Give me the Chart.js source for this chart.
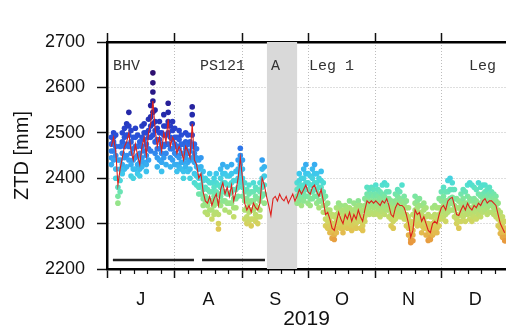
<!DOCTYPE html>
<html>
<head>
<meta charset="utf-8">
<script src="https://cdn.jsdelivr.net/npm/chart.js@4.4.1/dist/chart.umd.min.js"></script>
<style>
  body { margin: 0; background: #fff; }
</style>
</head>
<body>
<canvas id="ztd" width="506" height="331"></canvas>
<script>
// x = days since 1 July 2019
const monthStarts = [0, 31, 62, 92, 123, 153];
const monthMids = [15.5, 46.5, 77, 107.5, 138, 168.5];
const monthLetters = ['J', 'A', 'S', 'O', 'N', 'D'];
const minorDays = [6.2, 12.4, 18.6, 24.8, 37.2, 43.4, 49.6, 55.8, 68, 74, 80, 86,
  98.2, 104.4, 110.6, 116.8, 129, 135, 141, 147, 159.2, 165.4, 171.6, 177.8];

// smoothed ZTD (red line), one value per day starting at day 2
const lineStart = 2;
const lineZtd = [
  2470, 2490, 2460, 2385, 2420, 2445, 2470, 2480, 2500, 2460, 2440, 2475, 2450, 2430, 2470,
  2490, 2450, 2500, 2520, 2570, 2510, 2470, 2490, 2460, 2500, 2480, 2530, 2470, 2490, 2480,
  2455, 2470, 2460, 2440, 2470, 2460, 2445, 2520, 2440, 2430, 2400, 2410, 2370, 2350, 2345,
  2360, 2340, 2355, 2365, 2340, 2375, 2390, 2365, 2380, 2360, 2385, 2350, 2370, 2400, 2445,
  2400, 2345, 2330, 2340, 2325, 2345, 2335, 2330, 2345, 2400, 2385, 2360, 2340, 2318, 2355,
  2360, 2350, 2365, 2355, 2350, 2360, 2345, 2355, 2365, 2350, 2360, 2375, 2365, 2375, 2385,
  2370, 2365, 2380, 2385, 2370, 2360, 2375, 2350, 2320, 2325, 2310, 2290, 2285, 2305, 2325,
  2310, 2300, 2320, 2310, 2325, 2305, 2320, 2310, 2330, 2315, 2305, 2330, 2350, 2345, 2350,
  2345, 2350, 2345, 2340, 2350, 2345, 2355, 2340, 2320, 2315, 2335, 2345, 2340, 2340, 2335,
  2320, 2300, 2270, 2285, 2330, 2320, 2325, 2305, 2315, 2300, 2285, 2280, 2300, 2305, 2300,
  2320, 2335, 2340, 2330, 2350, 2355, 2358, 2340, 2320, 2318, 2330, 2340, 2330, 2345, 2335,
  2330, 2340, 2335, 2345, 2340, 2350, 2355, 2345, 2350, 2350, 2345, 2340, 2320, 2300, 2290,
  2280
];

// individual ZTD observations (dots), one list per day starting at day 2
const obsStart = 2;
const obsZtd = [
  [2490, 2475, 2460, 2445, 2430], [2500, 2490, 2480, 2460, 2440], [2495, 2470, 2450, 2420, 2400],
  [2440, 2400, 2380, 2360, 2345], [2470, 2440, 2420, 2395, 2370], [2500, 2480, 2455, 2430, 2410],
  [2510, 2490, 2470, 2445, 2420], [2520, 2495, 2475, 2450, 2425], [2545, 2515, 2495, 2470, 2440],
  [2505, 2480, 2455, 2430, 2405], [2490, 2465, 2440, 2420, 2400], [2510, 2490, 2470, 2445, 2420],
  [2495, 2470, 2450, 2430, 2410], [2480, 2455, 2435, 2420, 2405], [2515, 2490, 2470, 2445, 2425],
  [2520, 2500, 2485, 2460, 2435], [2500, 2475, 2450, 2430, 2415], [2530, 2505, 2490, 2465, 2440],
  [2560, 2535, 2515, 2490, 2460], [2632, 2610, 2590, 2570, 2545, 2520, 2495], [2550, 2525, 2505, 2480, 2455],
  [2510, 2485, 2465, 2445, 2425], [2525, 2500, 2485, 2465, 2440], [2500, 2475, 2455, 2435, 2415],
  [2540, 2515, 2495, 2470, 2445], [2515, 2495, 2475, 2455, 2430], [2565, 2545, 2525, 2500, 2475],
  [2515, 2490, 2465, 2445, 2425], [2525, 2505, 2485, 2465, 2440], [2510, 2490, 2475, 2455, 2430],
  [2490, 2470, 2450, 2430, 2415], [2505, 2485, 2465, 2445, 2425], [2495, 2475, 2455, 2435, 2420],
  [2475, 2455, 2435, 2415, 2400], [2500, 2480, 2465, 2445, 2425], [2495, 2475, 2455, 2435, 2415],
  [2480, 2460, 2440, 2420, 2400], [2557, 2540, 2520, 2495, 2470, 2445], [2475, 2455, 2435, 2410, 2390],
  [2465, 2445, 2425, 2405, 2385], [2440, 2420, 2400, 2380, 2365], [2445, 2425, 2405, 2385, 2365],
  [2415, 2395, 2375, 2355, 2340], [2400, 2380, 2360, 2345, 2325], [2395, 2375, 2355, 2340, 2320],
  [2410, 2390, 2370, 2350, 2330], [2390, 2370, 2350, 2330, 2310], [2400, 2380, 2360, 2340, 2320],
  [2410, 2390, 2370, 2350, 2325], [2385, 2365, 2345, 2320, 2300, 2288], [2420, 2400, 2380, 2360, 2340],
  [2430, 2410, 2390, 2370, 2350], [2410, 2390, 2370, 2350, 2330], [2425, 2405, 2385, 2365, 2345],
  [2405, 2385, 2365, 2345, 2325], [2430, 2410, 2390, 2370, 2345], [2395, 2375, 2355, 2335, 2315],
  [2415, 2395, 2375, 2355, 2335], [2440, 2420, 2400, 2380, 2360], [2466, 2450, 2430, 2410, 2390],
  [2440, 2420, 2400, 2380, 2360], [2390, 2370, 2350, 2330, 2310], [2375, 2355, 2335, 2315, 2300],
  [2385, 2365, 2345, 2325, 2305], [2370, 2350, 2330, 2310, 2295], [2390, 2370, 2350, 2330, 2310],
  [2380, 2360, 2340, 2320, 2305], [2375, 2355, 2335, 2315, 2300], [2390, 2370, 2350, 2330, 2315],
  [2440, 2420, 2400, 2380, 2360], [2425, 2405, 2385, 2365, 2345],
  [], [], [], [], [], [], [], [], [], [], [], [], [], [],
  [2390, 2375, 2360, 2345], [2410, 2395, 2380, 2365, 2350], [2400, 2385, 2370, 2355, 2340],
  [2420, 2400, 2380, 2365, 2350], [2430, 2410, 2390, 2375, 2360], [2410, 2390, 2375, 2360, 2345],
  [2405, 2385, 2370, 2355, 2340], [2420, 2400, 2385, 2370, 2355], [2430, 2410, 2390, 2375, 2360],
  [2410, 2390, 2375, 2360, 2345], [2400, 2380, 2365, 2350, 2335], [2415, 2395, 2380, 2365, 2350],
  [2390, 2370, 2355, 2340, 2325], [2360, 2340, 2325, 2310, 2295], [2345, 2330, 2320, 2305, 2290],
  [2330, 2315, 2305, 2295, 2280], [2320, 2300, 2290, 2280, 2268], [2315, 2300, 2285, 2275, 2265],
  [2335, 2320, 2305, 2290, 2280], [2345, 2335, 2325, 2310, 2300], [2340, 2325, 2310, 2300, 2290],
  [2330, 2315, 2300, 2290, 2280], [2340, 2330, 2320, 2305, 2295], [2335, 2320, 2310, 2300, 2290],
  [2350, 2335, 2325, 2310, 2300], [2330, 2315, 2305, 2295, 2285], [2345, 2330, 2320, 2305, 2295],
  [2335, 2320, 2310, 2300, 2290], [2350, 2340, 2330, 2315, 2305], [2340, 2325, 2315, 2305, 2290],
  [2330, 2315, 2305, 2295, 2285], [2355, 2340, 2330, 2315, 2305], [2380, 2365, 2350, 2335, 2325],
  [2375, 2360, 2345, 2335, 2320], [2380, 2365, 2350, 2340, 2325], [2375, 2360, 2345, 2335, 2320],
  [2385, 2365, 2350, 2340, 2325], [2375, 2360, 2345, 2335, 2320], [2370, 2355, 2340, 2330, 2315],
  [2385, 2365, 2350, 2340, 2325], [2390, 2360, 2345, 2335, 2320], [2385, 2370, 2355, 2340, 2330],
  [2370, 2355, 2340, 2330, 2315], [2350, 2335, 2320, 2310, 2295], [2345, 2330, 2315, 2305, 2290],
  [2365, 2350, 2335, 2325, 2310], [2375, 2360, 2345, 2335, 2320], [2370, 2355, 2340, 2330, 2315],
  [2385, 2350, 2340, 2325, 2315], [2360, 2345, 2335, 2320, 2310], [2350, 2335, 2320, 2310, 2295],
  [2335, 2315, 2300, 2290, 2275], [2305, 2290, 2275, 2265, 2258], [2320, 2300, 2285, 2275, 2262],
  [2360, 2345, 2330, 2315, 2305], [2350, 2335, 2320, 2310, 2295], [2355, 2340, 2325, 2315, 2300],
  [2340, 2320, 2305, 2295, 2280], [2345, 2330, 2315, 2305, 2290], [2335, 2315, 2300, 2290, 2275],
  [2320, 2300, 2285, 2275, 2263], [2315, 2295, 2280, 2270, 2265], [2335, 2315, 2300, 2290, 2275],
  [2340, 2320, 2305, 2295, 2280], [2335, 2315, 2300, 2290, 2280], [2355, 2335, 2320, 2310, 2295],
  [2370, 2350, 2335, 2325, 2310], [2380, 2360, 2340, 2330, 2315], [2370, 2350, 2330, 2320, 2305],
  [2395, 2370, 2350, 2340, 2325], [2400, 2375, 2355, 2345, 2330], [2390, 2375, 2358, 2345, 2330],
  [2375, 2355, 2340, 2330, 2315], [2355, 2335, 2320, 2310, 2300], [2350, 2335, 2318, 2305, 2290],
  [2365, 2345, 2330, 2320, 2305], [2375, 2355, 2340, 2330, 2315], [2370, 2345, 2330, 2320, 2305],
  [2385, 2360, 2345, 2335, 2320], [2390, 2355, 2335, 2325, 2310], [2385, 2350, 2330, 2320, 2305],
  [2380, 2355, 2340, 2330, 2315], [2375, 2350, 2335, 2325, 2310], [2390, 2365, 2345, 2335, 2320],
  [2380, 2360, 2340, 2330, 2315], [2385, 2365, 2350, 2340, 2325], [2385, 2370, 2355, 2345, 2330],
  [2375, 2360, 2345, 2335, 2320], [2380, 2365, 2350, 2340, 2325], [2370, 2360, 2350, 2340, 2325],
  [2365, 2355, 2345, 2335, 2320], [2360, 2350, 2340, 2330, 2315], [2345, 2330, 2320, 2310, 2295],
  [2325, 2310, 2300, 2290, 2278], [2315, 2300, 2290, 2280, 2270], [2305, 2290, 2280, 2270, 2262]
];

// cruise legs (black bars near the bottom) and labels
const legBars = [[2.7, 39.8], [43.5, 72.3]];
const legBarLevel = 2220;
const shadeRange = [73.2, 87.0];
const legLabels = [
  { day: 2.7, text: 'BHV' },
  { day: 42.6, text: 'PS121' },
  { day: 75, text: 'A' },
  { day: 92.4, text: 'Leg 1' },
  { day: 165.7, text: 'Leg' }
];
const legLabelLevel = 2648;

// colour scale for the dots
const colorStops = [
  [2260, [232, 150, 60]], [2285, [226, 196, 82]], [2310, [202, 218, 102]],
  [2335, [168, 226, 122]], [2360, [122, 230, 162]], [2385, [82, 224, 206]],
  [2410, [62, 200, 236]], [2440, [52, 160, 242]], [2470, [46, 112, 232]],
  [2500, [40, 72, 212]], [2540, [36, 42, 172]], [2580, [40, 26, 142]], [2630, [46, 16, 112]]
];
function ztdColor(v) {
  if (v <= colorStops[0][0]) return 'rgb(' + colorStops[0][1].join(',') + ')';
  for (let i = 1; i < colorStops.length; i++) {
    if (v <= colorStops[i][0]) {
      const [v0, c0] = colorStops[i - 1];
      const [v1, c1] = colorStops[i];
      const t = (v - v0) / (v1 - v0);
      return 'rgb(' + c0.map((c, k) => Math.round(c + (c1[k] - c) * t)).join(',') + ')';
    }
  }
  return 'rgb(' + colorStops[colorStops.length - 1][1].join(',') + ')';
}

const obsPoints = [];
obsZtd.forEach((vals, i) => {
  vals.forEach(v => obsPoints.push({ x: obsStart + i, y: v }));
});
const linePoints = lineZtd.map((v, i) => ({ x: lineStart + i, y: v }));

const legDatasets = legBars.map(([a, b]) => ({
  type: 'line',
  data: [{ x: a, y: legBarLevel }, { x: b, y: legBarLevel }],
  borderColor: '#222',
  borderWidth: 2.5,
  pointRadius: 0,
  order: 0
}));

const fixSize = (size) => (axis) => {
  if (axis.isHorizontal()) axis.height = size; else axis.width = size;
};

const overlay = {
  id: 'overlay',
  beforeDatasetsDraw(chart) {
    const { ctx, chartArea, scales } = chart;
    const x0 = scales.x.getPixelForValue(shadeRange[0]);
    const x1 = scales.x.getPixelForValue(shadeRange[1]);
    ctx.save();
    ctx.fillStyle = '#d9d9d9';
    ctx.fillRect(x0, chartArea.top, x1 - x0, chartArea.bottom - chartArea.top);
    ctx.restore();
  },
  afterDatasetsDraw(chart) {
    const { ctx, scales } = chart;
    ctx.save();
    ctx.font = '15px "Liberation Mono", "DejaVu Sans Mono", monospace';
    ctx.fillStyle = '#333';
    ctx.textBaseline = 'middle';
    const y = scales.y.getPixelForValue(legLabelLevel);
    legLabels.forEach(l => ctx.fillText(l.text, scales.x.getPixelForValue(l.day), y));
    ctx.restore();
  }
};

const fontFamily = '"Liberation Sans", Arial, sans-serif';
const tickFont = { family: fontFamily, size: 18 };

new Chart(document.getElementById('ztd'), {
  type: 'scatter',
  data: {
    datasets: [
      {
        data: obsPoints,
        pointRadius: 2.8,
        pointBorderWidth: 0,
        pointBackgroundColor: (c) => ztdColor(c.raw ? c.raw.y : 2400),
        order: 3
      },
      {
        type: 'line',
        data: linePoints,
        borderColor: 'rgb(222, 32, 28)',
        borderWidth: 1.1,
        pointRadius: 0,
        tension: 0,
        order: 1
      },
      ...legDatasets
    ]
  },
  options: {
    responsive: false,
    animation: false,
    layout: { padding: 0, autoPadding: false },
    plugins: { legend: { display: false }, tooltip: { enabled: false } },
    scales: {
      y: {
        position: 'left',
        min: 2200,
        max: 2700,
        ticks: { stepSize: 100, font: tickFont, color: '#111', padding: 12, callback: (v) => String(v) },
        grid: { color: '#bdbdbd', tickColor: '#111', tickLength: 10, tickWidth: 1.5 },
        border: { color: '#000', width: 2.5, dash: [1, 2] },
        title: { display: true, text: 'ZTD [mm]', font: { family: fontFamily, size: 20, lineHeight: 1.1 }, color: '#111', padding: { top: 11, bottom: 0 } },
        afterFit: fixSize(107)
      },
      yMinor: {
        position: 'left',
        min: 2200,
        max: 2700,
        ticks: { stepSize: 20, display: false },
        grid: { drawOnChartArea: false, tickColor: '#111', tickLength: 5, tickWidth: 1.2 },
        border: { display: false },
        afterFit: fixSize(0)
      },
      xTop: {
        type: 'linear',
        position: 'top',
        min: 0,
        max: 182.6,
        afterBuildTicks: (a) => { a.ticks = monthStarts.map(v => ({ value: v })); },
        ticks: { display: false },
        grid: { drawOnChartArea: false, tickColor: '#111', tickLength: 9, tickWidth: 1.5 },
        border: { color: '#000', width: 2.5 },
        afterFit: fixSize(42)
      },
      xTopMinor: {
        type: 'linear',
        position: 'top',
        min: 0,
        max: 182.6,
        afterBuildTicks: (a) => { a.ticks = minorDays.map(v => ({ value: v })); },
        ticks: { display: false },
        grid: { drawOnChartArea: false, tickColor: '#111', tickLength: 5, tickWidth: 1.2 },
        border: { display: false },
        afterFit: fixSize(0)
      },
      x: {
        type: 'linear',
        position: 'bottom',
        min: 0,
        max: 182.6,
        afterBuildTicks: (a) => { a.ticks = monthStarts.map(v => ({ value: v })); },
        ticks: { display: false },
        grid: { color: '#bdbdbd', tickColor: '#111', tickLength: 9, tickWidth: 1.5 },
        border: { color: '#000', width: 2.5, dash: [1, 2] },
        afterFit: fixSize(0)
      },
      xMinor: {
        type: 'linear',
        position: 'bottom',
        min: 0,
        max: 182.6,
        afterBuildTicks: (a) => { a.ticks = minorDays.map(v => ({ value: v })); },
        ticks: { display: false },
        grid: { drawOnChartArea: false, tickColor: '#111', tickLength: 5, tickWidth: 1.2 },
        border: { display: false },
        afterFit: fixSize(0)
      },
      xLab: {
        type: 'linear',
        position: 'bottom',
        min: 0,
        max: 182.6,
        afterBuildTicks: (a) => { a.ticks = monthMids.map(v => ({ value: v })); },
        ticks: {
          autoSkip: false,
          maxRotation: 0,
          font: tickFont,
          color: '#111',
          padding: 20,
          callback: (v, i) => monthLetters[i]
        },
        grid: { display: false, drawTicks: false },
        border: { display: false },
        title: { display: true, text: '2019', font: { family: fontFamily, size: 21, lineHeight: 1 }, color: '#111', padding: { top: 0, bottom: 1 } },
        afterFit: fixSize(62)
      }
    }
  },
  plugins: [overlay]
});
</script>
</body>
</html>
